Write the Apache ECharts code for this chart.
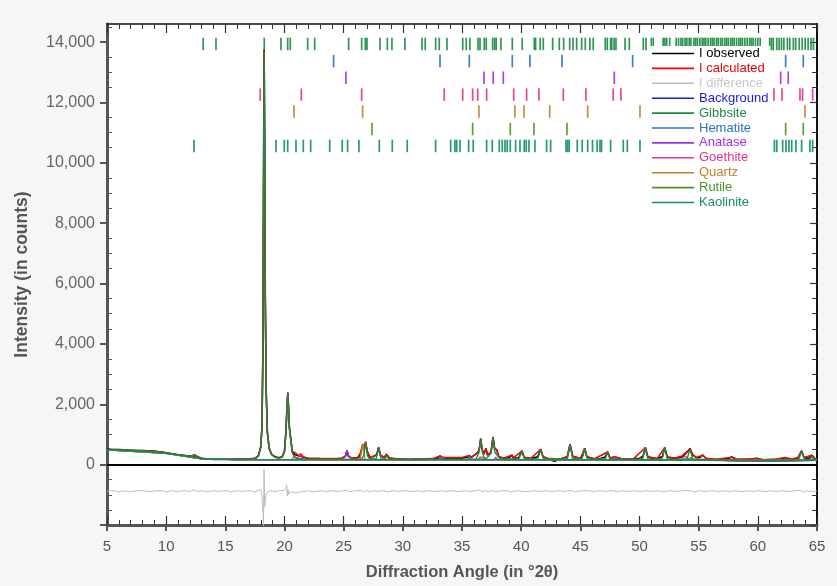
<!DOCTYPE html>
<html><head><meta charset="utf-8">
<script src="https://cdn.jsdelivr.net/npm/echarts@6/dist/echarts.min.js"></script>
<style>html,body{margin:0;padding:0;background:#f6f6f6}#c{width:837px;height:586px}</style>
</head><body><div id="c"></div>
<script>
// ---------- DATA ----------
const observed = [[5,515],[5.3,505],[5.6,498],[6,502],[6.4,488],[6.8,480],[7.2,476],[7.6,468],[8,470],[8.4,460],[8.8,452],[9.2,438],[9.6,418],[10,392],[10.4,370],[10.8,345],[11.2,322],[11.6,302],[12,282],[12.2,290],[12.35,340],[12.5,290],[12.7,252],[13,210],[13.4,192],[13.8,185],[14.3,182],[14.8,188],[15.3,180],[15.8,176],[16.3,182],[16.8,186],[17.3,198],[17.6,225],[17.8,300],[18.0,600],[18.1,1300],[18.18,4000],[18.24,10500],[18.28,13750],[18.32,11000],[18.38,5500],[18.45,2500],[18.55,1100],[18.7,550],[18.9,350],[19.2,260],[19.5,230],[19.8,260],[20.0,450],[20.12,1100],[20.22,2000],[20.28,2390],[20.34,1900],[20.42,1200],[20.48,1175],[20.55,800],[20.65,450],[20.85,330],[21.0,300],[21.3,290],[21.6,240],[22,212],[22.5,205],[23,200],[23.5,196],[24,195],[24.5,198],[24.8,205],[25.15,280],[25.28,450],[25.4,280],[25.7,210],[26.2,230],[26.45,400],[26.62,680],[26.72,500],[26.86,750],[26.98,450],[27.2,250],[27.5,260],[27.8,330],[27.95,570],[28.1,320],[28.4,230],[28.63,340],[28.85,220],[29.2,200],[29.6,188],[30,182],[30.5,170],[31,176],[31.5,180],[32,185],[32.5,190],[32.9,205],[33.14,290],[33.4,210],[34,200],[34.5,205],[35,210],[35.45,250],[35.62,300],[35.8,240],[36.1,330],[36.38,420],[36.5,600],[36.58,865],[36.7,500],[36.85,350],[37.03,540],[37.15,320],[37.45,400],[37.62,920],[37.75,550],[37.95,480],[38.1,260],[38.5,210],[39.0,230],[39.2,320],[39.35,220],[39.8,230],[40.07,460],[40.25,240],[40.8,200],[41.4,260],[41.65,510],[41.85,260],[42.3,190],[42.8,110],[43.3,180],[43.9,260],[44.13,680],[44.35,280],[45.0,200],[45.2,300],[45.37,545],[45.55,260],[46.2,190],[46.7,200],[47.1,250],[47.31,425],[47.5,220],[47.93,250],[48.5,190],[49,195],[49.5,200],[50,210],[50.3,280],[50.49,570],[50.7,260],[51.1,205],[51.5,200],[51.95,270],[52.13,570],[52.35,250],[53.0,200],[53.6,260],[53.85,350],[54.1,450],[54.27,535],[54.5,320],[54.8,230],[55.1,240],[55.34,320],[55.6,210],[56,180],[56.5,170],[57,175],[57.5,200],[57.79,250],[58.2,180],[58.6,172],[59.0,170],[59.5,180],[59.9,210],[60.2,175],[60.5,160],[61,165],[61.5,170],[62,200],[62.3,230],[62.8,180],[63.2,200],[63.4,230],[63.7,460],[63.9,240],[64.3,200],[64.55,320],[64.8,200],[65,190]];

const calculated = [[5,505],[6,495],[7,475],[8,460],[9,435],[10,390],[11,330],[12,275],[12.4,330],[12.7,250],[13,205],[14,185],[16,178],[17.5,205],[17.8,300],[18.0,600],[18.1,1280],[18.18,3950],[18.24,10400],[18.28,13700],[18.32,10950],[18.38,5450],[18.45,2480],[18.55,1080],[18.7,540],[18.9,345],[19.2,255],[19.5,230],[19.8,255],[20.0,440],[20.12,1080],[20.22,1980],[20.28,2370],[20.34,1880],[20.42,1190],[20.48,1160],[20.55,790],[20.65,430],[20.8,380],[20.95,390],[21.15,300],[21.37,360],[21.6,250],[22,210],[23,200],[24.8,200],[25.15,280],[25.28,470],[25.42,280],[25.7,210],[26.3,230],[26.45,420],[26.62,690],[26.72,520],[26.86,760],[26.98,460],[27.2,255],[27.45,270],[27.8,330],[27.95,575],[28.1,320],[28.4,230],[28.63,345],[28.85,220],[29.5,195],[30.5,180],[31.5,190],[32.5,200],[33.14,290],[33.5,240],[34,235],[35,240],[35.62,300],[35.8,245],[36.1,330],[36.38,420],[36.5,600],[36.58,860],[36.7,510],[36.85,350],[37.03,530],[37.15,330],[37.45,410],[37.62,910],[37.75,560],[37.95,470],[38.1,270],[38.5,215],[39.2,310],[39.35,225],[40.07,455],[40.25,240],[40.8,205],[41.65,505],[41.85,260],[42.3,200],[43.3,190],[43.9,260],[44.13,670],[44.35,280],[45.0,205],[45.37,540],[45.55,260],[46.2,195],[47.31,420],[47.5,225],[47.93,250],[48.5,195],[49.5,200],[50.49,560],[50.7,260],[51.5,205],[52.13,560],[52.35,250],[53.0,220],[53.6,290],[53.85,380],[54.1,460],[54.27,520],[54.5,330],[54.8,240],[55.34,310],[55.6,215],[56.5,175],[57.79,245],[58.2,180],[59.9,205],[60.5,165],[61.5,175],[62.3,240],[62.8,185],[63.4,230],[63.7,450],[63.9,240],[64.55,310],[64.8,205],[65,195]];

const difference = [[5,-880],[5.5,-860],[6,-895],[6.5,-870],[7,-900],[7.5,-866],[8,-858],[8.5,-894],[9,-878],[9.5,-856],[10,-892],[10.5,-864],[11,-898],[11.5,-860],[12,-890],[12.35,-840],[12.7,-896],[13,-866],[13.5,-900],[14,-862],[14.5,-890],[15,-858],[15.5,-894],[16,-866],[16.5,-890],[17,-860],[17.5,-894],[17.8,-850],[18.0,-830],[18.1,-1050],[18.16,-1500],[18.2,-1650],[18.22,-2100],[18.24,-1200],[18.27,-170],[18.3,-700],[18.33,-1400],[18.38,-1200],[18.45,-980],[18.6,-900],[18.8,-860],[19.2,-895],[19.6,-862],[20.0,-850],[20.12,-780],[20.18,-660],[20.24,-1040],[20.3,-820],[20.36,-990],[20.45,-910],[20.6,-860],[20.8,-910],[21,-940],[21.3,-900],[21.6,-895],[22,-868],[22.5,-898],[23,-862],[23.5,-894],[24,-860],[24.5,-892],[25,-866],[25.28,-840],[25.5,-900],[26,-866],[26.5,-850],[26.7,-910],[26.9,-856],[27.2,-898],[27.6,-862],[27.95,-890],[28.3,-856],[28.7,-896],[29.2,-864],[29.7,-890],[30.2,-858],[30.7,-894],[31.2,-866],[31.7,-892],[32.2,-860],[32.7,-896],[33.2,-866],[33.7,-890],[34.2,-862],[34.7,-894],[35.2,-864],[35.7,-890],[36.2,-856],[36.55,-840],[36.7,-910],[37.0,-862],[37.3,-896],[37.6,-850],[37.8,-906],[38.2,-868],[38.7,-860],[39.2,-896],[39.7,-862],[40.1,-888],[40.6,-894],[41.1,-860],[41.6,-890],[42.1,-864],[42.6,-894],[43.1,-860],[43.6,-890],[44.1,-856],[44.6,-892],[45.1,-866],[45.6,-860],[46.1,-894],[46.6,-864],[47.1,-890],[47.6,-858],[48.1,-894],[48.6,-866],[49.1,-890],[49.6,-862],[50.1,-894],[50.5,-858],[51.0,-890],[51.5,-864],[52.1,-896],[52.6,-860],[53.1,-890],[53.6,-866],[54.1,-856],[54.6,-896],[55.1,-864],[55.6,-890],[56.1,-860],[56.6,-894],[57.1,-866],[57.6,-890],[58.1,-862],[58.6,-894],[59.1,-866],[59.6,-890],[60.1,-860],[60.6,-894],[61.1,-866],[61.6,-890],[62.1,-862],[62.6,-894],[63.1,-866],[63.6,-850],[63.8,-906],[64.2,-866],[64.6,-890],[65,-876]];

const background = [[5,490],[6,480],[7,460],[8,445],[9,420],[10,375],[11,320],[12,260],[13,190],[14,170],[16,165],[20,165],[25,165],[30,160],[35,165],[40,165],[45,160],[50,155],[55,150],[57,140],[58,125],[60,115],[62,115],[63,140],[65,150]];

const gibbsiteCurve = [[5,500],[6,490],[7,470],[8,455],[9,430],[10,385],[11,325],[12,270],[13,200],[14,180],[16,175],[17.5,200],[17.8,290],[18.0,580],[18.1,1250],[18.18,3900],[18.24,10300],[18.28,13650],[18.32,10900],[18.38,5400],[18.45,2450],[18.55,1050],[18.7,520],[18.9,330],[19.2,240],[19.5,210],[19.8,240],[20.0,430],[20.12,1050],[20.22,1950],[20.28,2350],[20.34,1850],[20.42,1180],[20.48,1150],[20.55,760],[20.65,400],[20.85,230],[21.5,190],[22,180],[23,175],[26.5,180],[26.7,300],[26.86,740],[27.0,300],[27.2,185],[27.75,200],[27.95,560],[28.15,200],[28.5,180],[28.63,320],[28.8,180],[36.2,190],[36.45,420],[36.58,840],[36.72,400],[36.9,210],[37.1,220],[37.45,380],[37.62,900],[37.78,400],[38,300],[38.2,190],[39.8,200],[40.07,440],[40.3,190],[41.4,200],[41.65,490],[41.9,190],[43.9,200],[44.13,660],[44.35,200],[45.15,200],[45.37,530],[45.6,190],[47.1,190],[47.31,410],[47.5,180],[50.25,180],[50.49,550],[50.72,180],[51.9,180],[52.13,550],[52.36,180],[54.0,190],[54.27,500],[54.5,190],[56,160],[60,140],[63.45,160],[63.7,440],[63.95,170],[64.4,175],[64.55,290],[64.7,170],[65,165]];
const hematiteCurve = [[5,488],[10,372],[13,190],[16,165],[33.0,168],[33.15,270],[33.3,168],[35.5,168],[35.62,280],[35.75,168],[49.3,155],[49.45,200],[49.6,155],[54.0,150],[54.1,220],[54.25,150],[62.2,118],[62.4,210],[62.6,118],[65,145]];
const anataseCurve = [[5,486],[10,370],[13,188],[16,164],[24.9,166],[25.15,300],[25.28,490],[25.42,300],[25.7,166],[37.7,166],[37.85,250],[38.0,166],[47.75,158],[47.93,250],[48.1,158],[65,144]];
const goethiteCurve = [[5,487],[10,371],[13,189],[16,165],[21.0,166],[21.3,330],[21.6,166],[33.0,166],[33.3,250],[33.55,166],[36.4,166],[36.65,260],[36.9,166],[53.5,150],[53.85,290],[54.1,150],[61.2,116],[61.4,200],[61.6,116],[65,145]];
const quartzCurve = [[5,487],[10,371],[13,189],[16,165],[20.6,166],[20.85,300],[21.1,166],[26.4,166],[26.62,680],[26.8,166],[36.35,166],[36.5,260],[36.65,166],[49.9,155],[50.1,220],[50.3,155],[65,145]];
const rutileCurve = [[5,486],[10,371],[13,189],[16,165],[27.25,166],[27.42,260],[27.6,166],[36.0,166],[36.1,230],[36.25,166],[54.2,148],[54.35,240],[54.5,148],[65,145]];
const kaoliniteCurve = [[5,494],[8,448],[10,378],[12,272],[12.35,320],[12.6,240],[13,194],[16,168],[20,168],[24.75,170],[24.9,210],[25.05,170],[30,163],[35,168],[40,168],[45,163],[50,158],[55,148],[60,128],[62,128],[65,148]];

// reflection positions (°2θ)
const gibbsiteRefl = [13.13,14.21,18.29,19.70,20.27,20.49,21.96,22.55,25.42,26.52,26.83,26.97,28.07,28.69,29.08,30.18,31.62,31.89,32.77,33.08,33.73,35.06,35.36,35.67,36.35,36.52,36.88,37.05,37.59,37.76,37.89,38.29,39.25,40.09,41.11,41.22,41.61,41.87,42.66,43.22,43.59,44.10,44.38,44.69,45.11,45.42,45.81,46.09,47.11,47.28,47.56,47.65,47.85,48.01,48.78,49.14,50.32,50.55,51.00,51.17,52.0,52.15,52.3,52.55,53.1,53.3,53.5,53.65,53.85,54.0,54.2,54.35,54.6,54.75,54.9,55.1,55.3,55.45,55.6,55.8,56.0,56.15,56.3,56.5,56.65,56.85,57.0,57.2,57.35,57.5,57.7,57.85,58.0,58.2,58.4,58.55,58.7,58.9,59.1,59.3,59.45,59.6,59.8,60.0,60.2,61.0,61.15,61.3,61.6,61.8,62.0,62.2,62.5,62.7,63.0,63.2,63.5,63.75,64.0,64.25,64.5,64.7];
const hematiteRefl = [24.15,33.14,35.62,39.25,40.74,43.45,49.42,54.09,57.59,62.35,63.84];
const anataseRefl = [25.19,36.86,37.64,38.49,47.87,53.9,55.1,61.93,62.57];
const goethiteRefl = [17.95,21.42,26.52,33.50,35.06,35.90,36.33,37.08,39.37,40.46,41.50,43.56,45.47,47.78,48.43,53.2,59.0,61.36,62.04,63.56,63.78,64.63];
const quartzRefl = [20.80,26.60,36.43,39.47,40.24,42.41,45.62,50.04,54.87,59.96,63.98];
const rutileRefl = [27.39,35.90,39.08,41.08,43.87,54.3,56.6,62.35,63.84];
const kaoliniteRefl = [12.35,18.26,19.28,19.98,20.27,20.97,21.59,22.21,23.82,24.88,25.33,26.29,28.01,29.11,30.37,32.77,34.04,34.40,34.55,34.83,35.56,35.95,37.08,37.56,38.15,38.40,38.63,38.82,39.08,39.53,39.90,40.26,40.43,40.66,41.16,42.15,42.49,43.79,43.93,44.06,44.74,45.16,45.62,46.03,46.42,46.66,46.79,47.56,48.63,48.97,50.04,61.4,61.6,62.1,62.38,62.63,62.86,63.22,63.7,64.4,64.63];

const yTickValues = [0,2000,4000,6000,8000,10000,12000,14000];

// ---------- CHART ----------
const phases = [
  {name:'Gibbsite', color:'#1b8a42', curve:gibbsiteCurve, refl:gibbsiteRefl, row:13940},
  {name:'Hematite', color:'#2a72c0', curve:hematiteCurve, refl:hematiteRefl, row:13370},
  {name:'Anatase', color:'#9a2ff0', curve:anataseCurve, refl:anataseRefl, row:12820},
  {name:'Goethite', color:'#e8328a', curve:goethiteCurve, refl:goethiteRefl, row:12260},
  {name:'Quartz', color:'#c0802a', curve:quartzCurve, refl:quartzRefl, row:11700},
  {name:'Rutile', color:'#4a9428', curve:rutileCurve, refl:rutileRefl, row:11120},
  {name:'Kaolinite', color:'#139060', curve:kaoliniteCurve, refl:kaoliniteRefl, row:10560}
];
const textColors = {'I observed':'#000','I calculated':'#ee0000','I difference':'#c8c8c8','Background':'#1a1ae6'};
phases.forEach(p=>textColors[p.name]=p.color);
const legendNames = ['I observed','I calculated','I difference','Background','Gibbsite','Hematite','Anatase','Goethite','Quartz','Rutile','Kaolinite'];

const FONT = '"Liberation Sans", Arial, Helvetica, sans-serif';
const series = [];
function line(name, data, color, width, z){
  return {name, type:'line', data, showSymbol:false, symbol:'none', silent:true,
    lineStyle:{color, width}, itemStyle:{color}, z, animation:false};
}
series.push(line('Background', background, '#1a1ae6', 1.3, 2));
series.push(line('I observed', observed, '#000000', 1.6, 3));
series.push(line('I calculated', calculated, '#ff0000', 1.5, 3));
phases.slice(1).forEach(p=>series.push(line(p.name, p.curve, p.color, 1.3, 4)));
series.push(line('Gibbsite', gibbsiteCurve, '#1b8a42', 1.4, 5));
const diff = line('I difference', difference, '#bdbdbd', 1, 3);
diff.markLine = {silent:true, symbol:'none', label:{show:false}, animation:false,
  lineStyle:{color:'#000', width:2, type:'solid'}, data:[{yAxis:0}]};
series.push(diff);
phases.forEach(p=>{
  series.push({name:p.name, type:'scatter', silent:true, symbol:'rect', symbolSize:[1.7,12.5],
    itemStyle:{color:p.color, opacity:0.9}, z:3, animation:false,
    data:p.refl.map(v=>[v,p.row])});
});

const yMin=-2000, yMax=14600;
const option = {
  backgroundColor:'#f6f6f6',
  animation:false,
  textStyle:{fontFamily:FONT},
  grid:{left:107, right:20, top:24, bottom:60, show:true, backgroundColor:'#ffffff', borderWidth:0},
  legend:{
    orient:'vertical', left:650, top:46, padding:[1,2,2,2], itemGap:1.9,
    backgroundColor:'#ffffff', icon:'rect', itemWidth:42, itemHeight:1.6, selectedMode:false,
    textStyle:{fontSize:13, fontFamily:FONT, lineHeight:13, padding:[0,0,0,0]},
    data: legendNames.map(n=>({name:n, textStyle:{color:textColors[n]}}))
  },
  xAxis:[
    {type:'value', min:5, max:65, interval:5, position:'bottom',
     axisLine:{show:true, onZero:false, lineStyle:{color:'#555', width:3}},
     axisTick:{show:true, inside:false, length:6, lineStyle:{color:'#555', width:2}},
     axisLabel:{color:'#555', fontSize:15, margin:14, fontFamily:FONT},
     splitLine:{show:false},
     name:'Diffraction Angle (in °2θ)', nameLocation:'middle', nameGap:39,
     nameTextStyle:{color:'#555', fontSize:16.5, fontWeight:'bold', fontFamily:FONT}},
    {type:'value', min:5, max:65, interval:5, position:'bottom',
     axisLine:{show:false, onZero:false}, axisLabel:{show:false}, splitLine:{show:false},
     axisTick:{show:true, inside:true, length:9, lineStyle:{color:'#333', width:1.2}},
     minorTick:{show:true, splitNumber:5, length:5, lineStyle:{color:'#333', width:1}}},
    {type:'value', min:5, max:65, interval:5, position:'top',
     axisLine:{show:true, onZero:false, lineStyle:{color:'#111', width:1.5}}, axisLabel:{show:false}, splitLine:{show:false},
     axisTick:{show:true, inside:true, length:9, lineStyle:{color:'#333', width:1.2}},
     minorTick:{show:true, splitNumber:5, length:5, lineStyle:{color:'#333', width:1}}}
  ],
  yAxis:[
    {type:'value', min:yMin, max:yMax, interval:2000, position:'left',
     axisLine:{show:true, onZero:false, lineStyle:{color:'#555', width:3}},
     axisTick:{show:true, inside:false, length:7, lineStyle:{color:'#555', width:2}},
     axisLabel:{color:'#666', fontSize:16, margin:12, fontFamily:FONT, showMaxLabel:false,
       formatter:v=> yTickValues.includes(v) ? v.toLocaleString('en-US') : ''},
     splitLine:{show:false},
     name:'Intensity (in counts)', nameLocation:'middle', nameRotate:90, nameGap:76,
     nameTextStyle:{color:'#555', fontSize:17.5, fontWeight:'bold', fontFamily:FONT}},
    {type:'value', min:yMin, max:yMax, interval:2000, position:'left',
     axisLine:{show:false, onZero:false}, axisLabel:{show:false}, splitLine:{show:false},
     axisTick:{show:false, inside:true},
     minorTick:{show:true, splitNumber:4, length:5, lineStyle:{color:'#555', width:1}}},
    {type:'value', min:yMin, max:yMax, interval:2000, position:'right',
     axisLine:{show:true, onZero:false, lineStyle:{color:'#111', width:2}}, axisLabel:{show:false}, splitLine:{show:false},
     axisTick:{show:true, inside:true, length:7, lineStyle:{color:'#333', width:1.2}},
     minorTick:{show:true, splitNumber:4, length:5, lineStyle:{color:'#333', width:1}}}
  ],
  series
};
const chart = echarts.init(document.getElementById('c'), null, {renderer:'canvas'});
chart.setOption(option);
</script></body></html>
